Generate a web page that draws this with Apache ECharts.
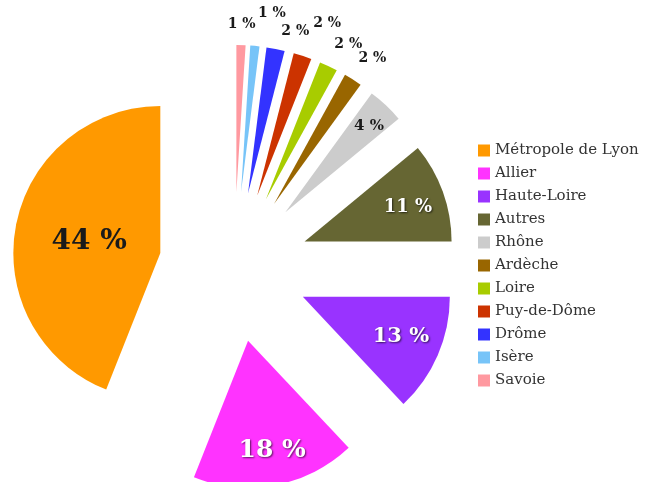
<!DOCTYPE html>
<html>
<head>
<meta charset="utf-8">
<script src="https://cdn.jsdelivr.net/npm/echarts@6/dist/echarts.min.js"></script>
<style>
html, body { margin: 0; padding: 0; background: #fff; }
#main { width: 658px; height: 482px; }
</style>
</head>
<body>
<div id="main"></div>
<script>
// parts in %, legend order
var names = ['Métropole de Lyon', 'Allier', 'Haute-Loire', 'Autres', 'Rhône', 'Ardèche', 'Loire', 'Puy-de-Dôme', 'Drôme', 'Isère', 'Savoie'];
var shares = [44, 18, 13, 11, 4, 2, 2, 2, 2, 1, 1];
var colors = ['#ff9900', '#ff33ff', '#9933ff', '#666633', '#cccccc', '#996600', '#a8cc00', '#cc3300', '#3333ff', '#77c4f8', '#ff99a0'];

// label placement (distance from pie centre, small turn in degrees) and look
var labelDist = [147, 187, 181, 184, 195, 250, 250, 261, 243, 256, 243];
var labelTurn = [1, 1, 0.7, -0.8, -0.6, -1.2, -2, -2.9, -3.8, -3.1, 0];
var labelSize = [28, 25, 21, 18, 15, 14, 14, 14, 14, 14, 14];
var labelWhite = [false, true, true, true, false, false, false, false, false, false, false];

var cx = 234, cy = 267;
var total = shares.reduce(function (a, b) { return a + b; }, 0);

function midAngle(i) {
    var cum = 0;
    for (var k = 0; k < i; k++) cum += shares[k];
    return 90 + (cum + shares[i] / 2) / total * 360;
}

var chartDom = document.getElementById('main');
var myChart = echarts.init(chartDom);
var option;

var pieBase = {
    type: 'pie',
    center: [cx, cy],
    radius: 147,
    startAngle: 90,
    clockwise: false,
    avoidLabelOverlap: false,
    emphasis: { disabled: true }
};

option = {
    animation: false,
    legend: {
        orient: 'vertical',
        left: 478,
        top: 143,
        padding: 0,
        icon: 'rect',
        itemWidth: 12,
        itemHeight: 12,
        itemGap: 8,
        selectedMode: false,
        textStyle: {
            fontFamily: 'DejaVu Serif',
            fontSize: 15,
            lineHeight: 15,
            color: '#333'
        },
        data: names
    },
    series: [
        // the slices, all pulled out
        Object.assign({}, pieBase, {
            selectedMode: 'multiple',
            selectedOffset: 75,
            label: { show: false },
            labelLine: { show: false },
            data: names.map(function (n, i) {
                return {
                    name: n,
                    value: shares[i],
                    selected: true,
                    itemStyle: { color: colors[i] },
                    select: { itemStyle: { color: colors[i], borderWidth: 0 } }
                };
            })
        }),
        // the percentages, same pie without fill
        Object.assign({}, pieBase, {
            silent: true,
            itemStyle: { color: 'rgba(0,0,0,0)' },
            label: {
                show: true,
                position: 'inside',
                formatter: '{c} %',
                fontFamily: 'DejaVu Serif',
                fontWeight: 'bold'
            },
            labelLine: { show: false },
            labelLayout: function (params) {
                var i = params.dataIndex;
                var a = (midAngle(i) + labelTurn[i]) * Math.PI / 180;
                return {
                    x: cx + labelDist[i] * Math.cos(a),
                    y: cy - labelDist[i] * Math.sin(a),
                    align: 'center',
                    verticalAlign: 'middle'
                };
            },
            data: names.map(function (n, i) {
                var lab = {
                    fontSize: labelSize[i],
                    color: labelWhite[i] ? '#fff' : '#1a1a1a'
                };
                if (labelWhite[i]) {
                    lab.textShadowColor = 'rgba(0,0,0,0.65)';
                    lab.textShadowBlur = 2;
                    lab.textShadowOffsetX = 1;
                    lab.textShadowOffsetY = 1;
                }
                return { name: n, value: shares[i], label: lab };
            })
        })
    ]
};

option && myChart.setOption(option);
</script>
</body>
</html>
